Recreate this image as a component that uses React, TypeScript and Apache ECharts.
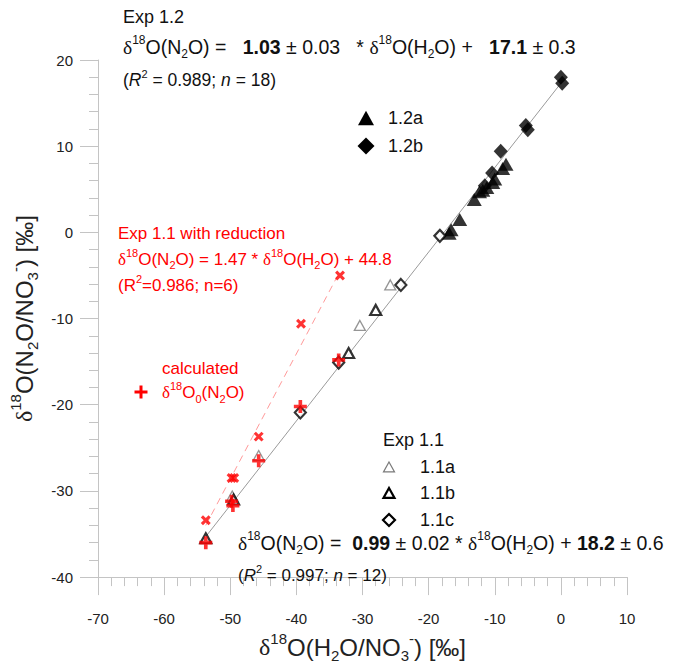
import React, { useEffect, useRef } from 'react';
import * as echarts from 'echarts';

// ---- data ----
const exp12a: number[][] = [[-8.3, 7.9], [-8.8, 7.4], [-10.0, 6.2], [-10.3, 5.8], [-11.2, 5.2], [-11.8, 4.9], [-12.3, 4.7], [-13.1, 3.8], [-15.3, 1.5], [-16.6, 0.3], [-16.9, -0.1]];
const exp12b: number[][] = [[0.0, 18.0], [0.2, 17.3], [-5.3, 12.4], [-5.0, 11.9], [-9.1, 9.4], [-10.4, 6.9], [-11.5, 5.4]];
const exp11a: number[][] = [[-25.8, -6.1], [-30.4, -10.8], [-45.7, -25.9], [-49.7, -30.6]];
const exp11b: number[][] = [[-28.0, -9.0], [-32.1, -14.0], [-49.5, -31.0], [-53.7, -35.5]];
const exp11c: number[][] = [[-18.3, -0.4], [-24.2, -6.1], [-33.6, -15.1], [-39.4, -20.9]];
const reduced: number[][] = [[-33.4, -5.0], [-39.3, -10.6], [-45.7, -23.7], [-49.8, -28.5], [-49.4, -28.5], [-53.7, -33.4]];
const calculated: number[][] = [[-33.6, -14.8], [-39.4, -20.2], [-45.7, -26.5], [-49.8, -31.2], [-49.6, -31.7], [-53.7, -36.0]];
const fitAll: number[][] = [[-53.7, -35.3], [0.3, 17.6]];
const fitReduced: number[][] = [[-53.7, -34.0], [-33.4, -4.5]];

const xMin = -70, xMax = 10, xStep = 10;
const yMin = -40, yMax = 20, yStep = 10;

const FONT = '"Liberation Sans", Arial, Helvetica, sans-serif';
const SERIF = '"Liberation Serif", "DejaVu Serif", serif';
const RED = '#ff0000';
const AXIS = '#c4c4c4';

const PLUS = 'path://M3.6,0 H6.4 V3.6 H10 V6.4 H6.4 V10 H3.6 V6.4 H0 V3.6 H3.6 Z';

function richFor(fs: number, color: string) {
  const lh = Math.round(fs * 1.35);
  return {
    sup: { fontSize: Math.round(fs * 0.62), fill: color, color, fontFamily: FONT, verticalAlign: 'top', lineHeight: lh },
    sub: { fontSize: Math.round(fs * 0.62), fill: color, color, fontFamily: FONT, verticalAlign: 'bottom', lineHeight: lh },
    b: { fontSize: fs, fontWeight: 'bold', fill: color, color, fontFamily: FONT, lineHeight: lh },
    i: { fontSize: fs, fontStyle: 'italic', fill: color, color, fontFamily: FONT, lineHeight: lh },
    d: { fontSize: fs, fill: color, color, fontFamily: SERIF, lineHeight: lh },
    n: { fontSize: fs, fill: color, color, fontFamily: FONT, lineHeight: lh },
  };
}

function gtext(x: number, y: number, text: string, fs: number, color: string, lh?: number) {
  return {
    type: 'text',
    x,
    y,
    z: 100,
    style: {
      text,
      fontSize: fs,
      fontFamily: FONT,
      fill: color,
      align: 'left',
      verticalAlign: 'middle',
      lineHeight: lh || Math.round(fs * 1.35),
      rich: richFor(fs, color),
    },
  };
}

function tri(cx: number, cy: number, s: number, fill: string, stroke: string, lw: number) {
  const h = s * 0.9;
  return {
    type: 'polygon',
    z: 100,
    shape: { points: [[cx, cy - h / 2], [cx + s / 2, cy + h / 2], [cx - s / 2, cy + h / 2]] },
    style: { fill, stroke, lineWidth: lw },
  };
}

function dia(cx: number, cy: number, s: number, fill: string, stroke: string, lw: number) {
  return {
    type: 'polygon',
    z: 100,
    shape: { points: [[cx, cy - s / 2], [cx + s / 2, cy], [cx, cy + s / 2], [cx - s / 2, cy]] },
    style: { fill, stroke, lineWidth: lw },
  };
}

function plus(cx: number, cy: number, s: number, t: number, color: string) {
  return {
    type: 'group',
    z: 100,
    children: [
      { type: 'rect', shape: { x: cx - s / 2, y: cy - t / 2, width: s, height: t }, style: { fill: color } },
      { type: 'rect', shape: { x: cx - t / 2, y: cy - s / 2, width: t, height: s }, style: { fill: color } },
    ],
  };
}

const eq12 = '{d|δ}{sup|18}O(N{sub|2}O) =   {b|1.03} ± 0.03   * {d|δ}{sup|18}O(H{sub|2}O) +   {b|17.1} ± 0.3';
const eq11 = '{d|δ}{sup|18}O(N{sub|2}O) =  {b|0.99} ± 0.02 * {d|δ}{sup|18}O(H{sub|2}O) + {b|18.2} ± 0.6';
const r12 = '({i|R}{sup|2} = 0.989; {i|n} = 18)';
const r11 = '({i|R}{sup|2} = 0.997; {i|n} = 12)';
const eqRed = '{d|δ}{sup|18}O(N{sub|2}O) = 1.47 * {d|δ}{sup|18}O(H{sub|2}O) + 44.8';
const rRed = '(R{sup|2}=0.986; n=6)';
const calcText = 'calculated\n{d|δ}{sup|18}O{sub|0}(N{sub|2}O)';

export default function App() {
  const ref = useRef<HTMLDivElement>(null);
  useEffect(() => {
    if (!ref.current) return;
    const chart = echarts.init(ref.current, null, { renderer: 'svg' });
    const axisCommon = {
      type: 'value',
      axisLine: { show: true, onZero: false, lineStyle: { color: AXIS, width: 1 } },
      axisTick: { show: true, inside: false, length: 18, lineStyle: { color: AXIS, width: 1 } },
      minorTick: { show: true, splitNumber: 5, length: 9, lineStyle: { color: AXIS, width: 1 } },
      splitLine: { show: false },
      minorSplitLine: { show: false },
      axisLabel: { fontSize: 15, color: '#222', fontFamily: FONT },
    };
    const titleRich = richFor(24, '#222');
    const option: any = {
      animation: false,
      backgroundColor: '#ffffff',
      grid: { left: 93, right: 56, top: 60, bottom: 71, containLabel: false },
      xAxis: {
        ...axisCommon,
        min: xMin,
        max: xMax,
        interval: xStep,
        axisLabel: { ...axisCommon.axisLabel, margin: 34 },
        name: '{d|δ}{sup|18}O(H{sub|2}O/NO{sub|3}{sup|-}) [‰]',
        nameLocation: 'middle',
        nameGap: 50,
        nameTextStyle: { fontSize: 24, color: '#222', fontFamily: FONT, lineHeight: 32, rich: titleRich },
      },
      yAxis: {
        ...axisCommon,
        min: yMin,
        max: yMax,
        interval: yStep,
        axisLabel: { ...axisCommon.axisLabel, margin: 25 },
        name: '{d|δ}{sup|18}O(N{sub|2}O/NO{sub|3}{sup|-}) [‰]',
        nameLocation: 'middle',
        nameRotate: 90,
        nameGap: 58,
        nameTextStyle: { fontSize: 24, color: '#222', fontFamily: FONT, lineHeight: 32, rich: titleRich },
      },
      series: [
        {
          type: 'line', data: fitAll, symbol: 'none', silent: true, z: 1,
          lineStyle: { color: '#9a9a9a', width: 1 },
        },
        {
          type: 'line', data: fitReduced, symbol: 'none', silent: true, z: 1,
          lineStyle: { color: '#ff9a9a', width: 1, type: [7, 5] },
        },
        {
          name: '1.2a', type: 'scatter', data: exp12a, symbol: 'triangle', symbolSize: [15, 13], z: 3,
          itemStyle: { color: '#000' },
        },
        {
          name: '1.2b', type: 'scatter', data: exp12b, symbol: 'diamond', symbolSize: [14, 15], z: 3,
          itemStyle: { color: '#000' },
        },
        {
          name: '1.1a', type: 'scatter', data: exp11a, symbol: 'triangle', symbolSize: [11, 10], z: 3,
          itemStyle: { color: '#fff', borderColor: '#7a7a7a', borderWidth: 1.3 },
        },
        {
          name: '1.1b', type: 'scatter', data: exp11b, symbol: 'triangle', symbolSize: [11, 10], z: 3,
          itemStyle: { color: '#fff', borderColor: '#000', borderWidth: 2.2 },
        },
        {
          name: '1.1c', type: 'scatter', data: exp11c, symbol: 'diamond', symbolSize: [11, 12], z: 3,
          itemStyle: { color: '#fff', borderColor: '#000', borderWidth: 2.2 },
        },
        {
          name: 'reduced', type: 'scatter', data: reduced, symbol: PLUS, symbolSize: 11, symbolRotate: 45, z: 4,
          itemStyle: { color: RED },
        },
        {
          name: 'calculated', type: 'scatter', data: calculated, symbol: PLUS, symbolSize: 13, z: 5,
          itemStyle: { color: RED },
        },
      ],
      graphic: [
        gtext(123, 17, 'Exp 1.2', 18, '#111'),
        gtext(123, 47, eq12, 19.5, '#111'),
        gtext(123, 80, r12, 17.5, '#111'),
        tri(366, 118, 16, '#000', '#000', 0),
        gtext(388, 118, '1.2a', 18, '#111'),
        dia(366, 146, 17, '#000', '#000', 0),
        gtext(388, 146, '1.2b', 18, '#111'),
        gtext(118, 233, 'Exp 1.1 with reduction', 17, RED),
        gtext(118, 259, eqRed, 17, RED),
        gtext(118, 285, rRed, 17, RED),
        plus(141, 392, 13, 3, RED),
        gtext(162, 380, calcText, 17, RED, 24),
        gtext(383, 440, 'Exp 1.1', 18, '#111'),
        tri(389, 467, 11, '#fff', '#7a7a7a', 1.2),
        gtext(420, 467, '1.1a', 18, '#111'),
        tri(389, 493, 11, '#fff', '#000', 2.2),
        gtext(420, 493, '1.1b', 18, '#111'),
        dia(389, 520, 12, '#fff', '#000', 2.2),
        gtext(420, 520, '1.1c', 18, '#111'),
        gtext(238, 543, eq11, 19.5, '#111'),
        gtext(238, 575, r11, 17, '#111'),
      ],
    };
    chart.setOption(option);
    return () => chart.dispose();
  }, []);
  return <div ref={ref} style={{ position: 'absolute', left: 0, top: 0, width: 683, height: 668 }} />;
}
